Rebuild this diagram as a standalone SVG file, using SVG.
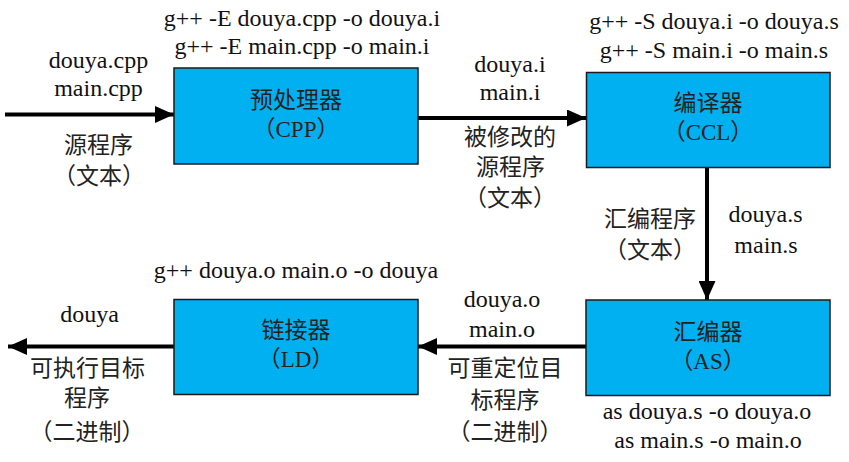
<svg xmlns="http://www.w3.org/2000/svg" width="849" height="462" viewBox="0 0 849 462">
<style>
.box{fill:#00B0F0;stroke:#1a1a1a;stroke-width:1.5}
.t{font-family:"Liberation Serif","Noto Sans CJK SC",serif;font-size:24px;fill:#111;text-anchor:middle}
.c{font-family:"Liberation Serif","Noto Sans CJK SC",serif;font-size:23px;fill:#222;text-anchor:middle}
.ln{stroke:#000;stroke-width:4;fill:none}
</style>
<defs>
<marker id="ah" markerUnits="userSpaceOnUse" markerWidth="19" markerHeight="17" refX="19" refY="8.5" orient="auto">
<path d="M0,0 L19,8.5 L0,17 z" fill="#000"/>
</marker>
</defs>
<g id="connectors">
<path class="ln" d="M5,114.5 H174" marker-end="url(#ah)"/>
<path class="ln" d="M418,118 H586" marker-end="url(#ah)"/>
<path class="ln" d="M707,168 V300" marker-end="url(#ah)"/>
<path class="ln" d="M586,346.5 H418" marker-end="url(#ah)"/>
<path class="ln" d="M174,346.5 H8" marker-end="url(#ah)"/>
</g>
<g id="cpp">
<rect class="box" x="174" y="68" width="244" height="96"/>
<text class="c" x="296" y="108">预处理器</text>
<text class="c" x="296" y="137">（CPP）</text>
</g>
<g id="ccl">
<rect class="box" x="586.5" y="72.5" width="243.5" height="95"/>
<text class="c" x="708" y="111">编译器</text>
<text class="c" x="708" y="140">（CCL）</text>
</g>
<g id="ld">
<rect class="box" x="174" y="299.5" width="244" height="95"/>
<text class="c" x="296" y="338">链接器</text>
<text class="c" x="296" y="367">（LD）</text>
</g>
<g id="as">
<rect class="box" x="586" y="300" width="244" height="95.5"/>
<text class="c" x="708" y="340">汇编器</text>
<text class="c" x="708" y="369">（AS）</text>
</g>
<g id="labels">
<text class="t" x="302" y="26">g++ -E douya.cpp -o douya.i</text>
<text class="t" x="302" y="54">g++ -E main.cpp -o main.i</text>
<text class="t" x="98.5" y="68">douya.cpp</text>
<text class="t" x="98.5" y="96">main.cpp</text>
<text class="c" x="98.5" y="153">源程序</text>
<text class="c" x="99" y="184">（文本）</text>
<text class="t" x="714" y="29">g++ -S douya.i -o douya.s</text>
<text class="t" x="714" y="58">g++ -S main.i -o main.s</text>
<text class="t" x="510" y="72">douya.i</text>
<text class="t" x="510" y="100">main.i</text>
<text class="c" x="510" y="145">被修改的</text>
<text class="c" x="510.5" y="175">源程序</text>
<text class="c" x="510" y="206">（文本）</text>
<text class="c" x="650" y="227">汇编程序</text>
<text class="c" x="650" y="258">（文本）</text>
<text class="t" x="765.5" y="222">douya.s</text>
<text class="t" x="766" y="253">main.s</text>
<text class="t" x="502" y="307">douya.o</text>
<text class="t" x="502" y="337">main.o</text>
<text class="c" x="505" y="376">可重定位目</text>
<text class="c" x="505" y="408">标程序</text>
<text class="c" x="505" y="440">（二进制）</text>
<text class="t" x="707" y="419">as douya.s -o douya.o</text>
<text class="t" x="708" y="448">as main.s -o main.o</text>
<text class="t" x="296" y="278">g++ douya.o main.o -o douya</text>
<text class="t" x="89.5" y="322">douya</text>
<text class="c" x="87.5" y="376">可执行目标</text>
<text class="c" x="87" y="406">程序</text>
<text class="c" x="87" y="440">（二进制）</text>
</g>
</svg>
